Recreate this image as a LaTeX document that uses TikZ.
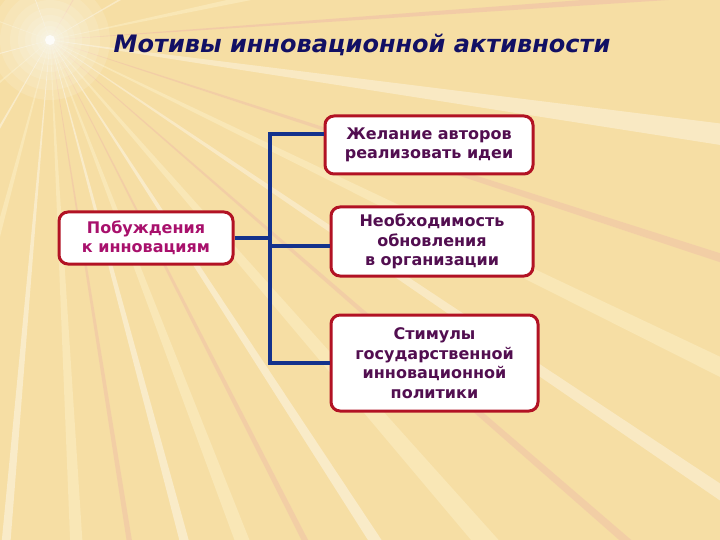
\documentclass[tikz,border=0pt]{standalone}
\usepackage{fontspec}
\setmainfont{DejaVu Sans}
\definecolor{bgbase}{RGB}{246,222,164}
\definecolor{bglight}{RGB}{252,240,200}
\definecolor{raypink}{RGB}{236,170,170}
\definecolor{framered}{RGB}{178,18,36}
\definecolor{linkblue}{RGB}{20,50,140}
\definecolor{titleblue}{RGB}{18,16,100}
\definecolor{txtmag}{RGB}{168,16,108}
\definecolor{txtpurp}{RGB}{82,14,80}
\begin{document}
\begin{tikzpicture}[x=1pt,y=-1pt,
  box/.style={draw=framered,line width=3pt,fill=white,rounded corners=9pt,align=center,
    font=\fontsize{16}{19.5}\selectfont\bfseries,inner sep=0pt},
  link/.style={draw=linkblue,line width=4pt}]
\useasboundingbox (0,0) rectangle (720,540);
\fill[bgbase] (0,0) rectangle (720,540);
% sunburst
\begin{scope}
\clip (0,0) rectangle (720,540);
\foreach \a/\w/\c/\o in {-30/1.2/white/0.35, -12/1.5/bglight/0.5, -4/0.6/raypink/0.35, 8/1.8/white/0.35, 18/0.7/raypink/0.3,
  26/1.4/bglight/0.5, 34/1/white/0.35, 41/0.6/raypink/0.3, 49/1.8/bglight/0.5, 57/1.1/white/0.4, 63/0.6/raypink/0.3,
  69/1.5/bglight/0.5, 75/1/white/0.4, 81/0.6/raypink/0.3, 87/1.4/bglight/0.5, 95/1/white/0.4, 105/1.5/bglight/0.5,
  120/1.2/white/0.4, 140/1.5/bglight/0.5, 165/1.2/white/0.4, 200/1.2/bglight/0.5, 250/1/white/0.4, 300/1.2/raypink/0.3}
  \fill[\c,opacity=\o] (50,40) -- ++(\a-\w/2:900) -- ++(\a+90:{2*900*sin(\w/2)}) -- cycle;
\foreach \r in {60,50,40,32,25,19,14,10,7}
  \fill[white,opacity=0.12] (50,40) circle (\r);
\fill[white,opacity=0.8] (50,40) circle (5);
\end{scope}
% title
\node[font=\fontsize{24}{28}\selectfont\bfseries\itshape,text=titleblue] (title) at (362,45) {Мотивы инновационной активности};
% boxes
\node[box,text=txtmag,minimum width=174pt,minimum height=52pt] (p) at (146,238) {Побуждения\\к инновациям};
\node[box,text=txtpurp,minimum width=208pt,minimum height=58pt] (a) at (429,145) {Желание авторов\\реализовать идеи};
\node[box,text=txtpurp,minimum width=202pt,minimum height=69pt] (b) at (432,241.5) {Необходимость\\обновления\\в организации};
\node[box,text=txtpurp,minimum width=207pt,minimum height=96pt] (c) at (434.5,363) {Стимулы\\государственной\\инновационной\\политики};
% connectors
\coordinate (jt) at (270,134);
\coordinate (jb) at (270,363);
\coordinate (jm) at (270,246);
\draw[link,line cap=rect] (jt) -- (jb);
\draw[link] (p.east) -- (p.east -| jt);
\draw[link] (jt) -- (jt -| a.west);
\draw[link] (jm) -- (jm -| b.west);
\draw[link] (jb) -- (c.west);
\end{tikzpicture}
\end{document}
